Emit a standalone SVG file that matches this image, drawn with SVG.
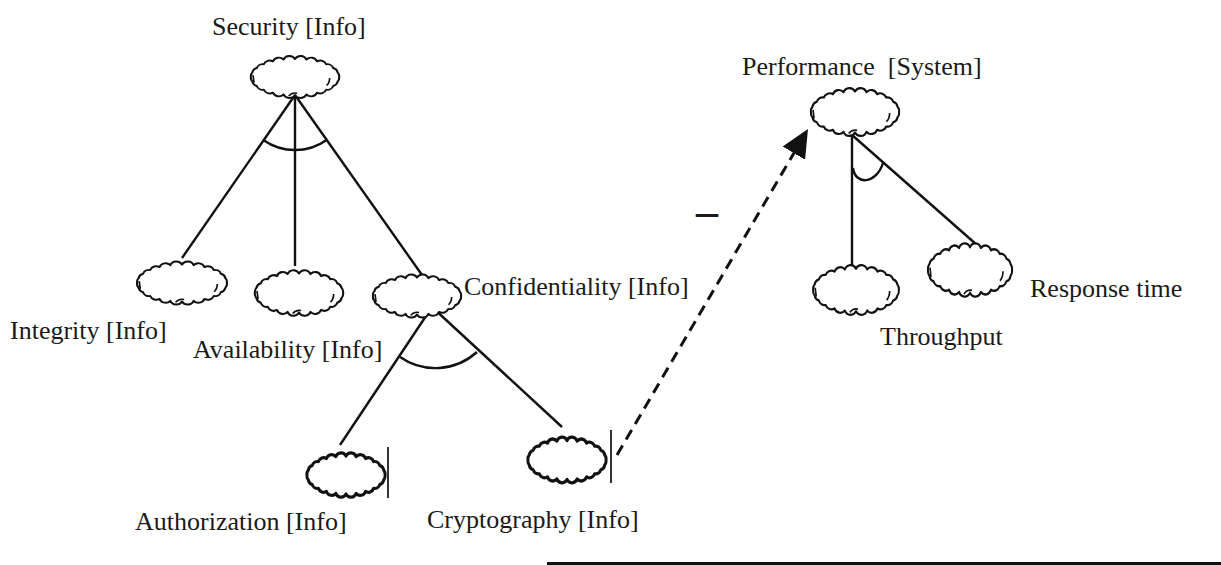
<svg xmlns="http://www.w3.org/2000/svg" width="1221" height="565" viewBox="0 0 1221 565">
<style>
.lbl{font-family:"Liberation Serif","Times New Roman",serif;font-size:26px;fill:#1a1a1a}
.cl{fill:#fff;stroke:#111;stroke-width:2;vector-effect:non-scaling-stroke;stroke-linejoin:round}
.clb{fill:#fff;stroke:#111;stroke-width:3.2;vector-effect:non-scaling-stroke;stroke-linejoin:round}
.tick{fill:none;stroke:#111;stroke-width:1.6;vector-effect:non-scaling-stroke}
.ln{stroke:#111;stroke-width:2.4;fill:none}
.arc{stroke:#111;stroke-width:2.4;fill:none}
.bar{stroke:#333;stroke-width:2}
.dash{stroke:#111;stroke-width:3;stroke-dasharray:11 7;fill:none}
</style>
<defs>
<path id="cloud" d="M42,0 A6,6 0 0 1 40.57,4.92 A6,6 0 0 1 36.37,9.5 A6,6 0 0 1 29.7,13.43 A6,6 0 0 1 21,16.45 A6,6 0 0 1 10.87,18.35 A6,6 0 0 1 0,19 A6,6 0 0 1 -10.87,18.35 A6,6 0 0 1 -21,16.45 A6,6 0 0 1 -29.7,13.43 A6,6 0 0 1 -36.37,9.5 A6,6 0 0 1 -40.57,4.92 A6,6 0 0 1 -42,0 A6,6 0 0 1 -40.57,-4.92 A6,6 0 0 1 -36.37,-9.5 A6,6 0 0 1 -29.7,-13.43 A6,6 0 0 1 -21,-16.45 A6,6 0 0 1 -10.87,-18.35 A6,6 0 0 1 0,-19 A6,6 0 0 1 10.87,-18.35 A6,6 0 0 1 21,-16.45 A6,6 0 0 1 29.7,-13.43 A6,6 0 0 1 36.37,-9.5 A6,6 0 0 1 40.57,-4.92 A6,6 0 0 1 42,0 Z"/>
<path id="hooks" d="M30,9 q3,-3 3,-8 M-40,-2 l1,8 M-6,20 q3,-4 8,-3"/>
<marker id="ah" viewBox="0 0 28 26" refX="28" refY="13" markerWidth="28" markerHeight="26" markerUnits="userSpaceOnUse" orient="auto">
<path d="M0,0 L28,13 L0,26 Z" fill="#111"/>
</marker>
</defs>

<g id="connectors">
<line class="ln" x1="295" y1="95" x2="182" y2="258"/>
<line class="ln" x1="295" y1="95" x2="295" y2="266"/>
<line class="ln" x1="295" y1="95" x2="422" y2="275"/>
<path class="arc" d="M263.6,140.2 A55,55 0 0 0 326.7,139.9"/>
<line class="ln" x1="432" y1="307" x2="340" y2="445"/>
<line class="ln" x1="432" y1="307" x2="562" y2="427"/>
<path class="arc" d="M400,357 A62,62 0 0 0 477,352"/>
<line class="ln" x1="852" y1="135" x2="852" y2="267"/>
<line class="ln" x1="852" y1="135" x2="977" y2="245"/>
<path class="arc" d="M853,168 C855,185 876,185 883,163"/>
<line class="dash" x1="617" y1="455" x2="808" y2="129" marker-end="url(#ah)"/>
<text class="lbl" x="696" y="226" style="font-size:44px;font-weight:bold">–</text>
</g>

<g id="security">
<g transform="translate(295,77) scale(1.05,0.95)"><use href="#cloud" class="cl"/><use href="#hooks" class="tick"/></g>
<text class="lbl" x="212" y="35">Security [Info]</text>
</g>
<g id="integrity">
<g transform="translate(182,283) scale(1.07,0.97)"><use href="#cloud" class="cl"/><use href="#hooks" class="tick"/></g>
<text class="lbl" x="10" y="339">Integrity [Info]</text>
</g>
<g id="availability">
<g transform="translate(299,293) scale(1.05,1.03)"><use href="#cloud" class="cl"/><use href="#hooks" class="tick"/></g>
<text class="lbl" x="193" y="358">Availability [Info]</text>
</g>
<g id="confidentiality">
<g transform="translate(417,296) scale(1.05,0.97)"><use href="#cloud" class="cl"/><use href="#hooks" class="tick"/></g>
<text class="lbl" x="464" y="295">Confidentiality [Info]</text>
</g>
<g id="authorization">
<g transform="translate(346,475) scale(0.93,1.0)"><use href="#cloud" class="clb"/></g>
<line class="bar" x1="388" y1="447" x2="388" y2="498"/>
<text class="lbl" x="135" y="530">Authorization [Info]</text>
</g>
<g id="cryptography">
<g transform="translate(567,460) scale(0.93,1.03)"><use href="#cloud" class="clb"/></g>
<line class="bar" x1="611" y1="430" x2="611" y2="483"/>
<text class="lbl" x="427" y="528">Cryptography [Info]</text>
</g>
<g id="performance">
<g transform="translate(855,112) scale(1.05,1.08)"><use href="#cloud" class="cl"/><use href="#hooks" class="tick"/></g>
<text class="lbl" x="742" y="75" xml:space="preserve">Performance  [System]</text>
</g>
<g id="throughput">
<g transform="translate(856,290) scale(1.02,1.12)"><use href="#cloud" class="cl"/><use href="#hooks" class="tick"/></g>
<text class="lbl" x="880" y="345">Throughput</text>
</g>
<g id="response-time">
<g transform="translate(970,270) scale(1.0,1.2)"><use href="#cloud" class="cl"/><use href="#hooks" class="tick"/></g>
<text class="lbl" x="1030" y="297">Response time</text>
</g>

<rect x="547" y="562" width="674" height="3" fill="#111"/>
</svg>
